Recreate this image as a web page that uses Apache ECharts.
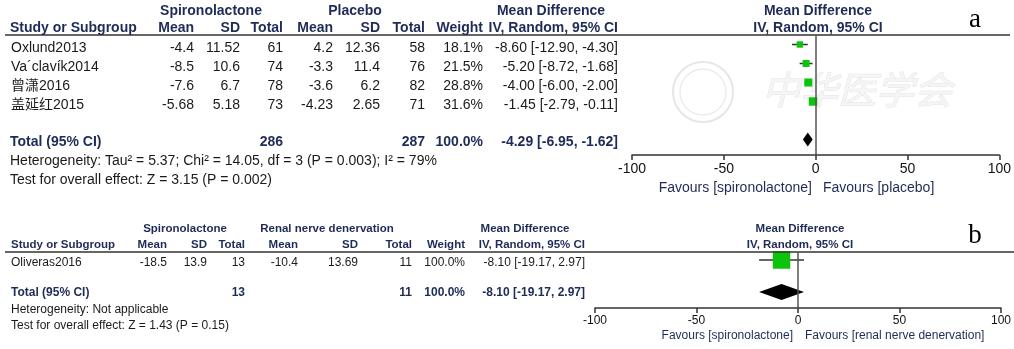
<!DOCTYPE html>
<html><head><meta charset="utf-8">
<script src="https://cdn.jsdelivr.net/npm/echarts@6/dist/echarts.min.js"></script>
<style>html,body{margin:0;padding:0;background:#fff}#c{width:1014px;height:349px}</style>
</head><body><div id="c"></div>
<script>
// ---- Panel a: spironolactone vs placebo ----
const studiesA = ['Oxlund2013', 'Va\u00b4clav\u00edk2014', '曾潇2016', '盖延红2015'];
const spiroMeanA = [-4.4, -8.5, -7.6, -5.68];
const spiroSdA = [11.52, 10.6, 6.7, 5.18];
const spiroNA = [61, 74, 78, 73];
const placeboMeanA = [4.2, -3.3, -3.6, -4.23];
const placeboSdA = [12.36, 11.4, 6.2, 2.65];
const placeboNA = [58, 76, 82, 71];
const weightA = [18.1, 21.5, 28.8, 31.6];
const mdA = [-8.60, -5.20, -4.00, -1.45];
const ciLowA = [-12.90, -8.72, -6.00, -2.79];
const ciHighA = [-4.30, -1.68, -2.00, -0.11];
const totalNA = [286, 287];
const totalWeightA = 100.0;
const pooledA = [-4.29, -6.95, -1.62];
const hetA = 'Heterogeneity: Tau\u00b2 = 5.37; Chi\u00b2 = 14.05, df = 3 (P = 0.003); I\u00b2 = 79%';
const effectA = 'Test for overall effect: Z = 3.15 (P = 0.002)';

// ---- Panel b: spironolactone vs renal nerve denervation ----
const studiesB = ['Oliveras2016'];
const spiroMeanB = [-18.5];
const spiroSdB = [13.9];
const spiroNB = [13];
const rdnMeanB = [-10.4];
const rdnSdB = [13.69];
const rdnNB = [11];
const weightB = [100.0];
const mdB = [-8.10];
const ciLowB = [-19.17];
const ciHighB = [2.97];
const totalNB = [13, 11];
const totalWeightB = 100.0;
const pooledB = [-8.10, -19.17, 2.97];
const hetB = 'Heterogeneity: Not applicable';
const effectB = 'Test for overall effect: Z = 1.43 (P = 0.15)';

const axisTicks = [-100, -50, 0, 50, 100];

// ---- layout ----
const SANS = '"Liberation Sans", Arial, "Noto Sans CJK SC", sans-serif';
const NAVY = '#1f2b57';
const INK = '#1a1a1a';

const A = { left: 632, right: 10, top: 35, axisY: 155, rowH: 19, sq: 1.5, dh: 7 };
const B = { left: 595, right: 9, top: 252, axisY: 308, rowH: 16, sq: 1.75, dh: 8 };
const rowY = (P, i) => P.top + (i + 0.5) * P.rowH;

const chart = echarts.init(document.getElementById('c'), null, { renderer: 'canvas' });

function studySeries(gi, P, md, lo, hi, w) {
  return {
    type: 'custom', xAxisIndex: gi, yAxisIndex: gi, clip: false,
    data: md.map((m, i) => [m, lo[i], hi[i], i, w[i]]),
    encode: { x: [0, 1, 2], y: 3 },
    renderItem: function (params, api) {
      const r = api.value(3);
      const a = api.coord([api.value(1), r]);
      const b = api.coord([api.value(2), r]);
      const c = api.coord([api.value(0), r]);
      const s = P.sq * Math.sqrt(api.value(4));
      return {
        type: 'group', children: [
          { type: 'line', shape: { x1: a[0], y1: a[1], x2: b[0], y2: b[1] }, style: { stroke: '#333', lineWidth: 1.5 } },
          { type: 'rect', shape: { x: c[0] - s / 2, y: c[1] - s / 2, width: s, height: s }, style: { fill: '#0cc40c' } }
        ]
      };
    }
  };
}

function pooledSeries(gi, P, pooled, row) {
  return {
    type: 'custom', xAxisIndex: gi, yAxisIndex: gi, clip: false,
    data: [[pooled[0], pooled[1], pooled[2], row]],
    encode: { x: [0, 1, 2], y: 3 },
    renderItem: function (params, api) {
      const r = api.value(3);
      const m = api.coord([api.value(0), r]);
      const l = api.coord([api.value(1), r]);
      const h = api.coord([api.value(2), r]);
      return {
        type: 'polygon',
        shape: { points: [[l[0], l[1]], [m[0], m[1] - P.dh], [h[0], h[1]], [m[0], m[1] + P.dh]] },
        style: { fill: '#000' }
      };
    },
    markLine: {
      silent: true, symbol: ['none', 'none'], label: { show: false },
      lineStyle: { color: '#555', width: 1.5, type: 'solid' },
      data: [{ xAxis: 0 }]
    }
  };
}

function xAxisFor(gi, size) {
  return {
    gridIndex: gi, type: 'value', min: axisTicks[0], max: axisTicks[axisTicks.length - 1],
    interval: axisTicks[1] - axisTicks[0],
    splitLine: { show: false },
    axisLine: { show: true, onZero: false, lineStyle: { color: '#333', width: 1.5 } },
    axisTick: { show: true, length: 5, lineStyle: { color: '#333', width: 1.5 } },
    axisLabel: { color: '#111', fontSize: size, fontFamily: SANS, margin: 7 }
  };
}
function yAxisFor(gi, P) {
  return { gridIndex: gi, type: 'value', inverse: true, show: false, min: -0.5, max: (P.axisY - P.top) / P.rowH - 0.5 };
}

// ---- text helpers ----
const G = [];
function txt(x, y, text, o) {
  o = o || {};
  G.push({
    type: 'text', x: x, y: y, z: 10, silent: true,
    style: {
      text: String(text), align: o.align || 'right', verticalAlign: 'middle',
      fontFamily: o.family || SANS, fontSize: o.size || 13, fontWeight: o.bold ? 'bold' : 'normal',
      fill: o.color || INK
    }
  });
}
const fmt2 = v => v.toFixed(2);
const ciText = (m, l, h) => fmt2(m) + ' [' + fmt2(l) + ', ' + fmt2(h) + ']';
const ext = (base, more) => Object.assign({}, base, more);

// watermark behind panel a
G.push({ type: 'circle', shape: { cx: 703, cy: 92, r: 30 }, style: { fill: 'none', stroke: '#e6e6e6', lineWidth: 2 }, z: 0, silent: true });
G.push({ type: 'circle', shape: { cx: 703, cy: 92, r: 23 }, style: { fill: 'none', stroke: '#ececec', lineWidth: 1.5 }, z: 0, silent: true });
G.push({ type: 'text', x: 857, y: 90, z: 0, silent: true, style: { text: '中华医学会', align: 'center', verticalAlign: 'middle', fontFamily: '"Noto Sans CJK SC", sans-serif', fontSize: 38, fontStyle: 'italic', fill: '#f5f5f5', stroke: '#e4e4e4', lineWidth: 1 } });

// panel a headers
const hA = { bold: true, color: NAVY, size: 14 };
txt(211, 11, 'Spironolactone', ext(hA, { align: 'center' }));
txt(355, 11, 'Placebo', ext(hA, { align: 'center' }));
txt(551, 11, 'Mean Difference', ext(hA, { align: 'center' }));
txt(818, 11, 'Mean Difference', ext(hA, { align: 'center' }));
txt(10, 28, 'Study or Subgroup', ext(hA, { align: 'left' }));
txt(194, 28, 'Mean', hA); txt(240, 28, 'SD', hA); txt(283, 28, 'Total', hA);
txt(333, 28, 'Mean', hA); txt(380, 28, 'SD', hA); txt(425, 28, 'Total', hA);
txt(483, 28, 'Weight', hA); txt(618, 28, 'IV, Random, 95% CI', hA);
txt(818, 28, 'IV, Random, 95% CI', ext(hA, { align: 'center' }));
G.push({ type: 'line', shape: { x1: 5, y1: 35, x2: 1010, y2: 35 }, style: { stroke: '#333', lineWidth: 1.5 }, z: 5 });
G.push({ type: 'text', x: 975, y: 20, z: 10, style: { text: 'a', align: 'center', verticalAlign: 'middle', fontFamily: '"Liberation Serif", "DejaVu Serif", serif', fontSize: 27, fill: '#000' } });

// panel a study rows
const dA = { size: 14 };
studiesA.forEach((s, i) => {
  const y = rowY(A, i) + 4;
  txt(11, y, s, { size: 14, align: 'left' });
  txt(194, y, spiroMeanA[i], dA); txt(240, y, spiroSdA[i], dA); txt(283, y, spiroNA[i], dA);
  txt(333, y, placeboMeanA[i], dA); txt(380, y, placeboSdA[i], dA); txt(425, y, placeboNA[i], dA);
  txt(483, y, weightA[i].toFixed(1) + '%', dA);
  txt(618, y, ciText(mdA[i], ciLowA[i], ciHighA[i]), dA);
});
const yTA = rowY(A, 5) + 3;
const tA = { bold: true, color: NAVY, size: 14 };
txt(10, yTA, 'Total (95% CI)', ext(tA, { align: 'left' }));
txt(283, yTA, totalNA[0], tA); txt(425, yTA, totalNA[1], tA);
txt(483, yTA, totalWeightA.toFixed(1) + '%', tA);
txt(618, yTA, ciText(pooledA[0], pooledA[1], pooledA[2]), tA);
txt(10, yTA + 19, hetA, { size: 14, align: 'left' });
txt(10, yTA + 38, effectA, { size: 14, align: 'left' });
txt(812, 188, 'Favours [spironolactone]', { size: 14, color: NAVY });
txt(823, 188, 'Favours [placebo]', { size: 14, color: NAVY, align: 'left' });

// panel b headers
const hB = { bold: true, color: NAVY, size: 11.5 };
txt(185, 229, 'Spironolactone', ext(hB, { align: 'center' }));
txt(327, 229, 'Renal nerve denervation', ext(hB, { align: 'center' }));
txt(525, 229, 'Mean Difference', ext(hB, { align: 'center' }));
txt(800, 229, 'Mean Difference', ext(hB, { align: 'center' }));
txt(11, 245, 'Study or Subgroup', ext(hB, { align: 'left' }));
txt(167, 245, 'Mean', hB); txt(207, 245, 'SD', hB); txt(245, 245, 'Total', hB);
txt(298, 245, 'Mean', hB); txt(358, 245, 'SD', hB); txt(412, 245, 'Total', hB);
txt(465, 245, 'Weight', hB); txt(585, 245, 'IV, Random, 95% CI', hB);
txt(800, 245, 'IV, Random, 95% CI', ext(hB, { align: 'center' }));
G.push({ type: 'line', shape: { x1: 5, y1: 252, x2: 1014, y2: 252 }, style: { stroke: '#333', lineWidth: 1.5 }, z: 5 });
G.push({ type: 'text', x: 975, y: 236, z: 10, style: { text: 'b', align: 'center', verticalAlign: 'middle', fontFamily: '"Liberation Serif", "DejaVu Serif", serif', fontSize: 27, fill: '#000' } });

const dB = { size: 12 };
studiesB.forEach((s, i) => {
  const y = rowY(B, i) + 3;
  txt(11, y, s, { size: 12, align: 'left' });
  txt(167, y, spiroMeanB[i], dB); txt(207, y, spiroSdB[i], dB); txt(245, y, spiroNB[i], dB);
  txt(298, y, rdnMeanB[i], dB); txt(358, y, rdnSdB[i], dB); txt(412, y, rdnNB[i], dB);
  txt(465, y, weightB[i].toFixed(1) + '%', dB);
  txt(585, y, ciText(mdB[i], ciLowB[i], ciHighB[i]), dB);
});
const yTB = rowY(B, 2) + 1;
const tB = { bold: true, color: NAVY, size: 12 };
txt(11, yTB, 'Total (95% CI)', ext(tB, { align: 'left' }));
txt(245, yTB, totalNB[0], tB); txt(412, yTB, totalNB[1], tB);
txt(465, yTB, totalWeightB.toFixed(1) + '%', tB);
txt(585, yTB, ciText(pooledB[0], pooledB[1], pooledB[2]), tB);
txt(11, 310, hetB, { size: 12, align: 'left' });
txt(11, 326, effectB, { size: 12, align: 'left' });
txt(793, 336, 'Favours [spironolactone]', { size: 12, color: NAVY });
txt(805, 336, 'Favours [renal nerve denervation]', { size: 12, color: NAVY, align: 'left' });

chart.setOption({
  animation: false,
  backgroundColor: '#fff',
  grid: [
    { left: A.left, right: A.right, top: A.top, height: A.axisY - A.top },
    { left: B.left, right: B.right, top: B.top, height: B.axisY - B.top }
  ],
  xAxis: [xAxisFor(0, 14), xAxisFor(1, 12)],
  yAxis: [yAxisFor(0, A), yAxisFor(1, B)],
  series: [
    studySeries(0, A, mdA, ciLowA, ciHighA, weightA),
    pooledSeries(0, A, pooledA, 5),
    studySeries(1, B, mdB, ciLowB, ciHighB, weightB),
    pooledSeries(1, B, pooledB, 2)
  ],
  graphic: G
});
</script></body></html>
